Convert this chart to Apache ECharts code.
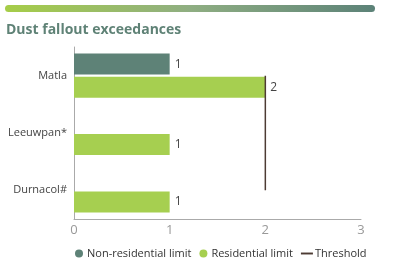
<!DOCTYPE html>
<html><head><meta charset="utf-8">
<script src="https://cdn.jsdelivr.net/npm/echarts@6/dist/echarts.min.js"></script>
<style>html,body{margin:0;padding:0;background:#fff}#c{width:400px;height:268px}</style>
</head><body><div id="c"></div>
<script>
const categories = ['Matla', 'Leeuwpan*', 'Durnacol#'];
const nonResidential = [1, null, null];
const residential = [2, 1, 1];
const threshold = [2, 2, 2];
const xTicks = [0, 1, 2, 3];

const chart = echarts.init(document.getElementById('c'));
const F = 'Open Sans';
chart.setOption({
  animation: false,
  textStyle: { fontFamily: F },
  graphic: [{
    type: 'rect', left: 5, top: 5, shape: { width: 370, height: 7, r: 3.5 },
    style: { fill: new echarts.graphic.LinearGradient(0, 0, 1, 0, [
      { offset: 0, color: '#a6cd48' }, { offset: 0.5, color: '#8fae82' }, { offset: 1, color: '#5c8278' }]) }
  }],
  title: { text: 'Dust fallout exceedances', left: 1, top: 18,
    textStyle: { fontFamily: F, fontSize: 14, fontWeight: 'bold', color: '#5f8276' } },
  grid: { left: 74, right: 39, top: 47, bottom: 49 },
  legend: {
    left: 70, bottom: 4, itemGap: 8, itemWidth: 12, itemHeight: 8,
    textStyle: { fontFamily: F, fontSize: 11, color: '#333', padding: [0, 0, 0, -3] },
    data: [
      { name: 'Non-residential limit', icon: 'circle' },
      { name: 'Residential limit', icon: 'circle' },
      { name: 'Threshold', icon: 'path://M0,0 L10,0 L10,1.6 L0,1.6 Z' }
    ]
  },
  xAxis: {
    type: 'value', min: 0, max: 3, interval: 1,
    splitLine: { show: false },
    axisLine: { show: true, lineStyle: { color: '#aaa' } },
    axisTick: { show: false },
    axisLabel: { fontFamily: F, fontSize: 13, color: '#999', margin: 5,
      formatter: v => xTicks.includes(v) ? String(v) : '' }
  },
  yAxis: {
    type: 'category', data: categories, inverse: true,
    axisLine: { show: true, lineStyle: { color: '#aaa' } },
    axisTick: { show: false },
    axisLabel: { fontFamily: F, fontSize: 11, color: '#444', margin: 7 }
  },
  series: [
    { name: 'Non-residential limit', type: 'bar', data: nonResidential, barWidth: 21, barGap: '10%',
      itemStyle: { color: '#5e8277' },
      label: { show: true, position: 'right', fontFamily: F, fontSize: 12, color: '#444', distance: 5 } },
    { name: 'Residential limit', type: 'bar', data: residential, barWidth: 21,
      itemStyle: { color: '#a6cf50' },
      label: { show: true, position: 'right', fontFamily: F, fontSize: 12, color: '#444', distance: 5 } },
    { name: 'Threshold', type: 'line', data: threshold, symbol: 'none', z: 5,
      itemStyle: { color: '#4d3b33' },
      lineStyle: { color: '#4d3b33', width: 1.5 } }
  ]
});
</script></body></html>
